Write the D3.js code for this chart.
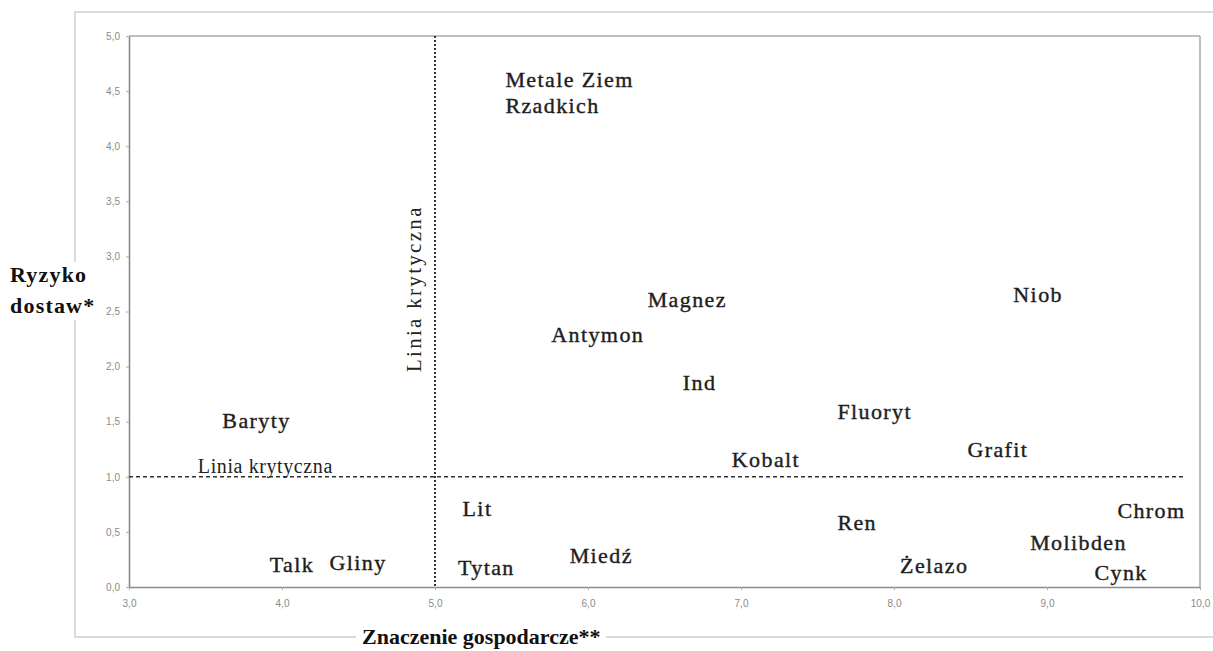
<!DOCTYPE html>
<html>
<head>
<meta charset="utf-8">
<script src="https://cdn.jsdelivr.net/npm/d3@7/dist/d3.min.js"></script>
<style>
  html, body { margin: 0; padding: 0; background: #fff; }
  svg { display: block; }
</style>
</head>
<body>
<svg id="chart" width="1213" height="651"></svg>
<script>
// ---- data ----
const minerals = ["Metale Ziem|Rzadkich", "Magnez", "Niob", "Antymon", "Ind", "Fluoryt", "Baryty",
  "Grafit", "Kobalt", "Lit", "Chrom", "Ren", "Molibden", "Miedź", "Talk", "Gliny", "Tytan", "Żelazo", "Cynk"];
const economicImportance = [5.46, 6.39, 8.78, 5.76, 6.62, 7.63, 3.61,
  8.48, 6.94, 5.18, 9.46, 7.63, 8.89, 5.88, 3.92, 4.31, 5.15, 8.04, 9.31];
const supplyRisk = [4.54, 2.54, 2.59, 2.22, 1.79, 1.52, 1.44,
  1.18, 1.09, 0.64, 0.63, 0.52, 0.34, 0.22, 0.14, 0.15, 0.11, 0.13, 0.06];
const criticalX = 5.0;
const criticalY = 1.0;
const criticalLabel = "Linia krytyczna";
const xTicks = [3, 4, 5, 6, 7, 8, 9, 10];
const yTicks = [0, 0.5, 1, 1.5, 2, 2.5, 3, 3.5, 4, 4.5, 5];
const yTitle = ["Ryzyko", "dostaw*"];
const xTitle = "Znaczenie gospodarcze**";

// ---- layout ----
const svg = d3.select("#chart");
const x = d3.scaleLinear().domain([3, 10]).range([129, 1200]);
const y = d3.scaleLinear().domain([0, 5]).range([587, 36]);
const fmt = d => d3.format(".1f")(d).replace(".", ",");

// outer frame
svg.append("rect").attr("x", 75).attr("y", 12).attr("width", 1160).attr("height", 625)
  .attr("fill", "none").attr("stroke", "#cfcfcf").attr("stroke-width", 1.5);

// plot border (top & right)
svg.append("line").attr("x1", x(3)).attr("x2", x(10)).attr("y1", y(5)).attr("y2", y(5))
  .attr("stroke", "#a8a8a8").attr("stroke-width", 1.5);
svg.append("line").attr("x1", x(10)).attr("x2", x(10)).attr("y1", y(5)).attr("y2", y(0))
  .attr("stroke", "#a8a8a8").attr("stroke-width", 1.5);

// axes
const gx = svg.append("g").attr("transform", `translate(0,${y(0)})`)
  .call(d3.axisBottom(x).tickValues(xTicks).tickFormat(fmt).tickSize(3).tickSizeOuter(0).tickPadding(10));
const gy = svg.append("g").attr("transform", `translate(${x(3)},0)`)
  .call(d3.axisLeft(y).tickValues(yTicks).tickFormat(fmt).tickSize(3).tickSizeOuter(0).tickPadding(6));
[gx, gy].forEach(g => {
  g.select(".domain").attr("stroke", "#8a8a8a").attr("stroke-width", 1.6);
  g.selectAll(".tick line").attr("stroke", "#aaa");
  g.selectAll(".tick text").attr("fill", "#8a8a8a")
    .style("font-family", "'Liberation Sans', Arial, sans-serif").style("font-size", "10px");
});

// critical lines
svg.append("line").attr("x1", x(3)).attr("x2", x(9.9)).attr("y1", y(criticalY)).attr("y2", y(criticalY))
  .attr("stroke", "#333").attr("stroke-width", 1.4).attr("stroke-dasharray", "4,3");
svg.append("line").attr("x1", x(criticalX)).attr("x2", x(criticalX)).attr("y1", y(5)).attr("y2", y(0))
  .attr("stroke", "#333").attr("stroke-width", 2).attr("stroke-dasharray", "2,2");

// critical line labels
svg.append("text").attr("x", x(3.45)).attr("y", y(1.03))
  .attr("fill", "#222").style("font-family", "'Liberation Serif', 'Times New Roman', serif")
  .style("font-size", "20px").style("letter-spacing", "0.6px").text(criticalLabel);
svg.append("text")
  .attr("transform", `translate(${x(4.91)},${y(1.95)}) rotate(-90)`)
  .attr("fill", "#222").style("font-family", "'Liberation Serif', 'Times New Roman', serif")
  .style("font-size", "21px").style("letter-spacing", "2.3px").text(criticalLabel);

// mineral labels
const items = minerals.map((m, i) => ({ name: m, ex: economicImportance[i], sr: supplyRisk[i] }));
const labels = svg.append("g").selectAll("text").data(items).join("text")
  .attr("x", d => x(d.ex)).attr("y", d => y(d.sr))
  .attr("fill", "#1e1e1e")
  .attr("stroke", "#1e1e1e").attr("stroke-width", 0.4)
  .style("font-family", "'Liberation Serif', 'Times New Roman', serif")
  .style("font-size", "22px").style("letter-spacing", "1.4px");
labels.each(function(d) {
  const parts = d.name.split("|");
  const t = d3.select(this);
  parts.forEach((p, j) => {
    t.append("tspan").attr("x", x(d.ex)).attr("dy", j === 0 ? 0 : 26).text(p);
  });
});

// y axis title (with white background)
svg.append("rect").attr("x", 6).attr("y", 262).attr("width", 96).attr("height", 58).attr("fill", "#fff");
const yt = svg.append("text").attr("fill", "#111")
  .style("font-family", "'Liberation Serif', 'Times New Roman', serif")
  .style("font-size", "22px").style("font-weight", "bold").style("letter-spacing", "1.2px");
yTitle.forEach((s, i) => yt.append("tspan").attr("x", 10).attr("y", 282 + i * 31).text(s));

// x axis title (with white background)
svg.append("rect").attr("x", 356).attr("y", 624).attr("width", 250).attr("height", 27).attr("fill", "#fff");
svg.append("text").attr("x", 362).attr("y", 644).attr("fill", "#111")
  .style("font-family", "'Liberation Serif', 'Times New Roman', serif")
  .style("font-size", "22px").style("font-weight", "bold").text(xTitle);
</script>
</body>
</html>
